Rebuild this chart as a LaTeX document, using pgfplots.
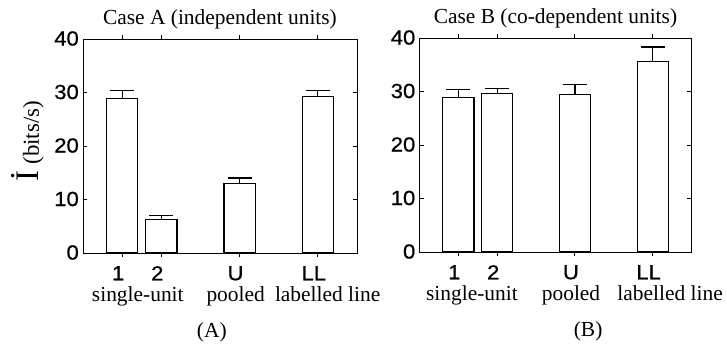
\documentclass[border=0pt]{standalone}
\usepackage{pgfplots}
\usepackage{pgfplotstable}
\pgfplotsset{compat=1.18}
\usepackage{fontspec}
\setmainfont{Liberation Serif}
\newfontfamily\tickfont{Liberation Sans}[FakeStretch=1.08, FakeBold=0.6]

% bar heights with upper error
\pgfplotstableread{
x y e
1 28.9 1.4
2 6.2 0.8
4 12.95 1.05
6 29.2 1.1
}\caseA
\pgfplotstableread{
x y e
1 28.95 1.35
2 29.7 0.8
4 29.5 1.8
6 35.6 2.7
}\caseB

\tikzset{
  grouplabel/.style={anchor=base, font=\fontsize{21.5}{21.5}\selectfont, inner sep=0pt},
}

\pgfplotsset{
  infoaxis/.style={
    scale only axis,
    height=214bp,
    xmin=0, xmax=7, ymin=0, ymax=40,
    xtick={1,2,4,6}, xticklabels={1,2,U,LL},
    ytick={0,10,20,30,40},
    xtick pos=both, ytick pos=both,
    tick align=inside,
    major tick length=4bp,
    axis line style={line width=0.9bp},
    tick style={line width=0.9bp, black},
    /pgf/number format/assume math mode=true,
    tick label style={font=\tickfont\fontsize{20.5}{20.5}\selectfont},
    yticklabel style={anchor=east, inner sep=0pt, xshift=-4bp, yshift=0.5bp},
    xticklabel style={anchor=north, inner sep=0pt, yshift=-9bp, xshift=-4bp},
    clip=false,
    ybar, bar width=0.8, bar shift=0pt,
  },
  infobar/.style={
    fill=white, draw=black, line width=1.2bp,
    error bars/.cd, y dir=plus, y explicit,
    error bar style={line width=1.2bp, black},
    error mark options={line width=1.2bp, black, mark size=12bp, rotate=90},
  },
}

\begin{document}
\begin{tikzpicture}
\useasboundingbox (0,0) rectangle (727bp,350bp);

\begin{axis}[infoaxis, width=274bp, at={(83bp,97bp)}, anchor=south west]
  \addplot[infobar] table[x=x, y=y, y error=e] {\caseA};
  \node[grouplabel] at (rel axis cs:0.5,1) [yshift=14bp] {Case A (independent units)};
  \node[grouplabel] at (axis cs:1.4,0) [yshift=-48bp] {single-unit};
  \node[grouplabel] at (axis cs:3.9,0) [yshift=-48bp] {pooled};
  \node[grouplabel] at (axis cs:6.25,0) [yshift=-48bp] {labelled line};
  \node[grouplabel] at (rel axis cs:0.47,0) [yshift=-84bp] {(A)};
  % vertical axis title
  \node[xshift=-44bp, yshift=5bp, rotate=90, anchor=base, inner sep=0pt,
        font=\fontsize{23}{23}\selectfont]
    at (rel axis cs:0,0.5) {{\fontsize{33}{33}\selectfont İ} (bits/s)};
\end{axis}

\begin{axis}[infoaxis, width=272bp, at={(419.5bp,98bp)}, anchor=south west]
  \addplot[infobar] table[x=x, y=y, y error=e] {\caseB};
  \node[grouplabel] at (rel axis cs:0.5,1) [yshift=14bp] {Case B (co-dependent units)};
  \node[grouplabel] at (axis cs:1.35,0) [yshift=-48bp] {single-unit};
  \node[grouplabel] at (axis cs:3.9,0) [yshift=-48bp] {pooled};
  \node[grouplabel] at (axis cs:6.45,0) [yshift=-48bp] {labelled line};
  \node[grouplabel] at (rel axis cs:0.62,0) [yshift=-84bp] {(B)};
\end{axis}
\end{tikzpicture}
\end{document}
